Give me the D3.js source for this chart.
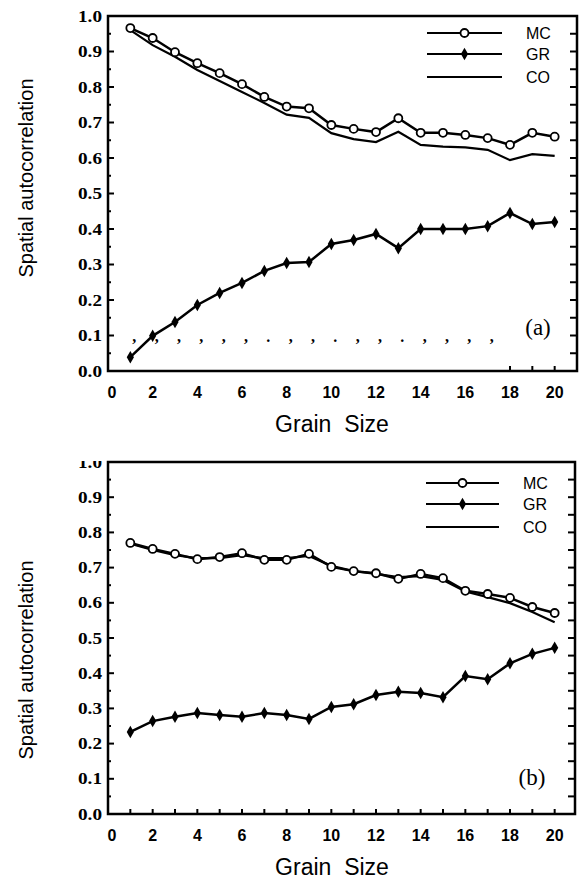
<!DOCTYPE html>
<html>
<head>
<meta charset="utf-8">
<script src="https://cdn.jsdelivr.net/npm/d3@7/dist/d3.min.js"></script>
<style>
  body { margin: 0; background: #fff; }
  svg { display: block; }
</style>
</head>
<body>
<div class="chart"></div>
<script>
const W = 584;
const H = 882;

// grain sizes on x
const grain = [1, 2, 3, 4, 5, 6, 7, 8, 9, 10, 11, 12, 13, 14, 15, 16, 17, 18, 19, 20];

// panel (a)
const mcA = [0.966, 0.938, 0.898, 0.867, 0.839, 0.808, 0.772, 0.745, 0.740, 0.693, 0.682, 0.673, 0.712, 0.671, 0.671, 0.665, 0.656, 0.637, 0.671, 0.660];
const grA = [0.039, 0.099, 0.138, 0.186, 0.220, 0.248, 0.282, 0.304, 0.307, 0.358, 0.369, 0.386, 0.346, 0.400, 0.400, 0.400, 0.408, 0.445, 0.414, 0.420];
const coA = [0.960, 0.918, 0.885, 0.848, 0.817, 0.786, 0.755, 0.722, 0.713, 0.670, 0.653, 0.645, 0.674, 0.637, 0.632, 0.630, 0.623, 0.594, 0.611, 0.606];

// panel (b)
const mcB = [0.770, 0.753, 0.739, 0.724, 0.730, 0.741, 0.722, 0.722, 0.739, 0.702, 0.690, 0.684, 0.668, 0.682, 0.670, 0.634, 0.625, 0.614, 0.588, 0.571];
const grB = [0.233, 0.264, 0.276, 0.287, 0.281, 0.276, 0.287, 0.281, 0.270, 0.304, 0.312, 0.338, 0.347, 0.344, 0.332, 0.392, 0.383, 0.428, 0.455, 0.472];
const coB = [0.768, 0.750, 0.735, 0.727, 0.727, 0.735, 0.727, 0.727, 0.733, 0.705, 0.690, 0.682, 0.673, 0.676, 0.665, 0.632, 0.616, 0.599, 0.574, 0.545];

const xTicks = [0, 2, 4, 6, 8, 10, 12, 14, 16, 18, 20];
const yTicks = [0.0, 0.1, 0.2, 0.3, 0.4, 0.5, 0.6, 0.7, 0.8, 0.9, 1.0];
const seriesNames = ["MC", "GR", "CO"];

const svg = d3.select(".chart")
  .append("svg")
  .attr("width", W)
  .attr("height", H);

const serif = "'Liberation Serif', 'Times New Roman', serif";
const sans = "'Liberation Sans', Arial, sans-serif";

function drawPanel(p) {
  const x = d3.scaleLinear().domain([0, 21]).range([p.left, 577]);
  const y = d3.scaleLinear().domain([0, 1]).range([p.bottom, p.top]);
  const g = svg.append("g");

  // frame
  g.append("rect")
    .attr("x", p.left).attr("y", p.top)
    .attr("width", p.right - p.left).attr("height", p.bottom - p.top)
    .attr("fill", "none").attr("stroke", "#000").attr("stroke-width", 2.5);

  // left ticks (inward)
  const minor = d3.range(0.05, 1, 0.05);
  g.selectAll(".lt").data(minor).enter().append("line")
    .attr("x1", p.left).attr("x2", (d, i) => p.left + (i % 2 ? 6 : 3))
    .attr("y1", d => y(d)).attr("y2", d => y(d))
    .attr("stroke", "#000").attr("stroke-width", 2);
  // right ticks (inward)
  g.selectAll(".rt").data(minor).enter().append("line")
    .attr("x1", p.right).attr("x2", p.right - 7)
    .attr("y1", d => y(d)).attr("y2", d => y(d))
    .attr("stroke", "#000").attr("stroke-width", 2);

  // bottom ticks
  g.selectAll(".bt").data(p.bottomTicks).enter().append("line")
    .attr("x1", d => x(d)).attr("x2", d => x(d))
    .attr("y1", p.bottom).attr("y2", p.bottom - 5)
    .attr("stroke", "#000").attr("stroke-width", 2);

  // y tick labels (the 1.0 of panel b is hidden behind the frame top)
  const clipId = "clip" + p.name;
  svg.append("clipPath").attr("id", clipId)
    .append("rect").attr("x", 0).attr("y", p.top - (p.name === "b" ? 1 : 14))
    .attr("width", W).attr("height", p.bottom - p.top + 30);
  g.append("g").attr("clip-path", "url(#" + clipId + ")")
    .selectAll("text").data(yTicks).enter().append("text")
    .attr("x", 102).attr("y", d => y(d) + 5.5)
    .attr("text-anchor", "end")
    .attr("font-family", serif)
    .attr("font-weight", "bold")
    .attr("font-size", 17)
    .attr("textLength", 24)
    .attr("lengthAdjust", "spacingAndGlyphs")
    .text(d => d.toFixed(1));

  // x tick labels
  g.selectAll(".xl").data(xTicks).enter().append("text")
    .attr("x", d => x(d) + (d === 0 ? 4 : 0)).attr("y", p.bottom + 27)
    .attr("text-anchor", "middle")
    .attr("font-family", sans).attr("font-weight", "bold").attr("font-size", 16)
    .text(d => d);

  // axis titles
  g.append("text")
    .attr("x", 332).attr("y", p.bottom + 61)
    .attr("text-anchor", "middle")
    .attr("font-family", sans).attr("font-size", 23)
    .style("white-space", "pre")
    .text("Grain  Size");
  g.append("text")
    .attr("transform", "translate(33," + p.titleY + ") rotate(-90)")
    .attr("text-anchor", "middle")
    .attr("font-family", sans).attr("font-size", 20)
    .text("Spatial autocorrelation");

  const line = d3.line().x((d, i) => x(grain[i])).y(d => y(d));

  g.append("path").datum(p.co).attr("d", line)
    .attr("fill", "none").attr("stroke", "#000").attr("stroke-width", 2.2);
  g.append("path").datum(p.mc).attr("d", line)
    .attr("fill", "none").attr("stroke", "#000").attr("stroke-width", 2.5);
  g.append("path").datum(p.gr).attr("d", line)
    .attr("fill", "none").attr("stroke", "#000").attr("stroke-width", 2.5);

  const diamond = d3.symbol().type(d3.symbolDiamond).size(45);
  g.selectAll(".gr").data(p.gr).enter().append("path")
    .attr("d", diamond)
    .attr("transform", (d, i) => "translate(" + x(grain[i]) + "," + y(d) + ")")
    .attr("fill", "#000");
  g.selectAll(".mc").data(p.mc).enter().append("circle")
    .attr("cx", (d, i) => x(grain[i])).attr("cy", d => y(d))
    .attr("r", 4).attr("fill", "#fff").attr("stroke", "#000").attr("stroke-width", 1.8);

  // legend
  const leg = g.append("g");
  seriesNames.forEach(function(name, i) {
    const ly = p.legY[i];
    leg.append("line")
      .attr("x1", p.legX1).attr("x2", p.legX2).attr("y1", ly).attr("y2", ly)
      .attr("stroke", "#000").attr("stroke-width", 2.2);
    const mx = (p.legX1 + p.legX2) / 2;
    if (name === "MC") {
      leg.append("circle").attr("cx", mx).attr("cy", ly).attr("r", 4)
        .attr("fill", "#fff").attr("stroke", "#000").attr("stroke-width", 1.8);
    } else if (name === "GR") {
      leg.append("path").attr("d", diamond)
        .attr("transform", "translate(" + mx + "," + ly + ")").attr("fill", "#000");
    }
    leg.append("text")
      .attr("x", p.legX2 + 24).attr("y", ly + 6)
      .attr("font-family", sans).attr("font-size", 16)
      .text(name);
  });

  // panel letter
  g.append("text")
    .attr("x", p.letterX).attr("y", p.letterY)
    .attr("text-anchor", "middle")
    .attr("font-family", serif).attr("font-size", 23)
    .text("(" + p.name + ")");

  return { x: x, y: y, g: g };
}

const a = drawPanel({
  name: "a", left: 108, right: 577, top: 16, bottom: 371,
  mc: mcA, gr: grA, co: coA,
  bottomTicks: [18, 19, 20],
  legX1: 427, legX2: 502, legY: [33, 54, 77],
  letterX: 538, letterY: 335, titleY: 178
});

// stray tick marks of panel (a), shifted up in the original
a.g.selectAll(".stray").data(grain.slice(0, 17)).enter().append("text")
  .attr("x", d => a.x(d) + 4).attr("y", 342)
  .attr("text-anchor", "middle")
  .attr("font-family", serif).attr("font-weight", "bold").attr("font-size", 16)
  .text(d => (d === 7 || d === 10 || d === 13) ? "." : ",");

drawPanel({
  name: "b", left: 108, right: 575, top: 462, bottom: 814,
  mc: mcB, gr: grB, co: coB,
  bottomTicks: grain,
  legX1: 426, legX2: 499, legY: [483, 504, 527],
  letterX: 532, letterY: 785, titleY: 660
});
</script>
</body>
</html>
